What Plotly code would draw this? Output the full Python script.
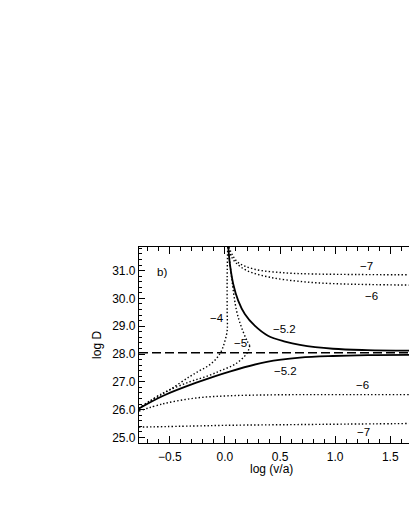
import plotly.graph_objects as go

upper_52_x = [0.03, 0.045, 0.075, 0.12, 0.18, 0.27, 0.39, 0.545, 0.68, 0.98, 1.29, 1.67]
upper_52_y = [31.85, 31.23, 30.52, 29.92, 29.44, 29.02, 28.66, 28.45, 28.33, 28.19, 28.14, 28.12]

lower_52_x = [-0.78, -0.56, -0.26, 0.05, 0.38, 0.68, 0.98, 1.3, 1.67]
lower_52_y = [26.04, 26.5, 26.97, 27.38, 27.72, 27.87, 27.93, 27.96, 27.97]

m4_x = [0.025, 0.02, 0.02, 0.02, 0.0, -0.03, -0.075, -0.15, -0.23, -0.32, -0.5, -0.68, -0.78]
m4_y = [31.85, 30.76, 29.56, 28.84, 28.48, 28.13, 27.85, 27.58, 27.4, 27.19, 26.72, 26.3, 26.06]

m5_up_x = [0.03, 0.06, 0.105, 0.15, 0.2, 0.225]
m5_up_y = [31.85, 30.76, 29.56, 28.96, 28.48, 28.3]
m5_lo_x = [0.225, 0.2, 0.09, -0.03, -0.15, -0.32, -0.56, -0.78]
m5_lo_y = [28.3, 28.03, 27.63, 27.42, 27.22, 27.0, 26.6, 26.05]

m6_up_x = [0.03, 0.06, 0.1, 0.2, 0.41, 0.71, 1.0, 1.3, 1.67]
m6_up_y = [31.85, 31.5, 31.28, 31.0, 30.76, 30.6, 30.53, 30.5, 30.48]
m7_up_x = [0.035, 0.07, 0.12, 0.27, 0.545, 0.8, 1.2, 1.67]
m7_up_y = [31.85, 31.55, 31.29, 31.05, 30.92, 30.88, 30.86, 30.85]

m6_lo_x = [-0.78, -0.56, -0.26, 0.05, 0.4, 0.7, 1.0, 1.3, 1.67]
m6_lo_y = [25.95, 26.21, 26.42, 26.5, 26.53, 26.54, 26.54, 26.54, 26.54]
m7_lo_x = [-0.78, -0.3, 0.08, 0.6, 1.1, 1.67]
m7_lo_y = [25.37, 25.41, 25.44, 25.46, 25.48, 25.5]

d_crit = 28.05

label_text = ["b)", "\u22127", "\u22126", "\u22124", "\u22125.2", "\u22125", "\u22125.2", "\u22126", "\u22127"]
label_x = [-0.57, 1.28, 1.33, -0.07, 0.54, 0.14, 0.545, 1.25, 1.26]
label_y = [30.95, 31.18, 30.09, 29.31, 28.89, 28.41, 27.4, 26.87, 25.2]

x_range = [-0.78, 1.67]
y_range = [24.8, 31.85]

FONT = "Liberation Sans"

fig = go.Figure()

solid = dict(color="black", width=1.8)
dotted = dict(color="black", width=1.4, dash="1.4px,2.2px")

for xs, ys in [(upper_52_x, upper_52_y), (lower_52_x, lower_52_y)]:
    fig.add_trace(go.Scatter(x=xs, y=ys, mode="lines", line=solid, line_shape="spline", showlegend=False))

for xs, ys in [(m4_x, m4_y), (m5_up_x, m5_up_y), (m5_lo_x, m5_lo_y),
               (m6_up_x, m6_up_y), (m7_up_x, m7_up_y),
               (m6_lo_x, m6_lo_y), (m7_lo_x, m7_lo_y)]:
    fig.add_trace(go.Scatter(x=xs, y=ys, mode="lines", line=dotted, line_shape="spline", showlegend=False))

fig.add_trace(go.Scatter(x=x_range, y=[d_crit, d_crit], mode="lines",
                         line=dict(color="black", width=1.5, dash="9px,4px"), showlegend=False))

for t, x, y in zip(label_text, label_x, label_y):
    fig.add_annotation(x=x, y=y, text=t, showarrow=False,
                       font=dict(family=FONT, size=11.5, color="black"))

# axis titles placed as paper annotations
fig.add_annotation(x=-0.156, y=0.5, xref="paper", yref="paper", text="log D", textangle=-90,
                   xanchor="center", yanchor="middle",
                   showarrow=False, font=dict(family=FONT, size=12, color="black"))
fig.add_annotation(x=0.489, y=-0.133, xref="paper", yref="paper", text="log (v/a)",
                   xanchor="center", yanchor="middle",
                   showarrow=False, font=dict(family=FONT, size=12, color="black"))

fig.update_xaxes(
    range=x_range, showgrid=False, zeroline=False, automargin=False,
    showline=True, linecolor="black", linewidth=1.2, mirror="allticks",
    ticks="inside", ticklen=7, tickwidth=1, tickcolor="black",
    tickvals=[-0.5, 0.0, 0.5, 1.0, 1.5], tickformat=".1f",
    minor=dict(dtick=0.1, tick0=0, ticks="inside", ticklen=3.5, tickcolor="black"),
    tickfont=dict(family=FONT, size=12, color="black"),
    ticklabelstandoff=2,
)
fig.update_yaxes(
    range=y_range, showgrid=False, zeroline=False, automargin=False,
    showline=True, linecolor="black", linewidth=1.2, mirror=False,
    ticks="inside", ticklen=6, tickwidth=1, tickcolor="black",
    tickvals=[25, 26, 27, 28, 29, 30, 31], tickformat=".1f",
    minor=dict(dtick=0.2, tick0=25, ticks="inside", ticklen=3, tickcolor="black"),
    tickfont=dict(family=FONT, size=12, color="black"),
)

fig.update_layout(
    width=409, height=529,
    margin=dict(l=139, r=0, t=247, b=86),
    plot_bgcolor="white", paper_bgcolor="white",
)

# the page body has a default 8px margin; drop it so the figure sits at 0,0
fig.write_html("out.html", config={"displayModeBar": False},
               post_script="document.body.style.margin='0';")
